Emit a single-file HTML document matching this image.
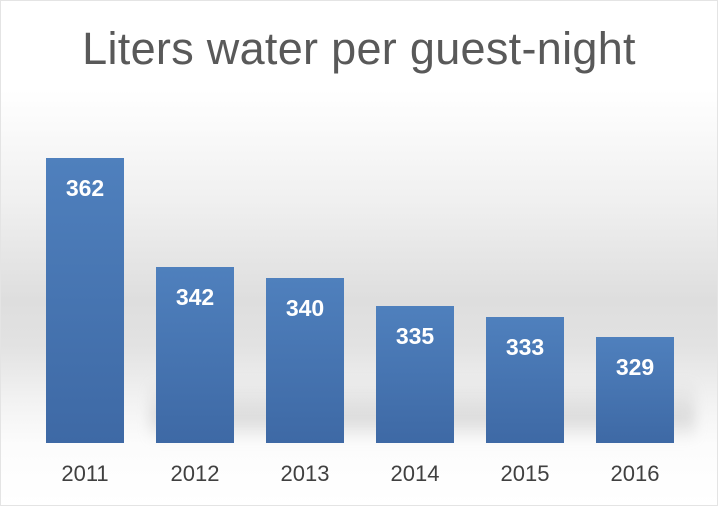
<!DOCTYPE html>
<html><head><style>
html,body{margin:0;padding:0}
body{width:718px;height:506px;position:relative;overflow:hidden;font-family:"Liberation Sans",sans-serif;
background:linear-gradient(to bottom,#ffffff 0px,#ffffff 90px,#f0f0f0 200px,#dedede 300px,#e2e2e2 345px,#f2f2f2 400px,#fcfcfc 445px,#ffffff 506px);}
.border{position:absolute;left:0;top:0;border:1px solid #e4e4e4;box-sizing:border-box;width:718px;height:506px}
.title{position:absolute;left:0;width:718px;top:23px;text-align:center;font-size:45px;color:#595959;letter-spacing:0.3px}
.bar{position:absolute;width:78px;bottom:63px;background:linear-gradient(to bottom,#4f80bd,#3e69a5);}
.bar span{position:absolute;top:17px;left:0;width:100%;text-align:center;color:#fff;font-weight:bold;font-size:23px}
.lbl{position:absolute;top:461px;width:100px;text-align:center;font-size:22px;color:#404040}
.shadow{position:absolute;left:150px;top:380px;width:545px;height:62px;background:linear-gradient(to bottom,rgba(180,180,180,0) 0%,rgba(170,170,170,0.35) 60%,rgba(200,200,200,0) 100%);filter:blur(6px)}
</style></head><body>
<div class="border"></div>
<div class="shadow"></div>
<div class="title">Liters water per guest-night</div>
<div class="bar" style="left:46px;top:158px"><span>362</span></div>
<div class="bar" style="left:156px;top:267px"><span>342</span></div>
<div class="bar" style="left:266px;top:278px"><span>340</span></div>
<div class="bar" style="left:376px;top:306px"><span>335</span></div>
<div class="bar" style="left:486px;top:317px"><span>333</span></div>
<div class="bar" style="left:596px;top:337px"><span>329</span></div>
<div class="lbl" style="left:35px">2011</div>
<div class="lbl" style="left:145px">2012</div>
<div class="lbl" style="left:255px">2013</div>
<div class="lbl" style="left:365px">2014</div>
<div class="lbl" style="left:475px">2015</div>
<div class="lbl" style="left:585px">2016</div>
</body></html>
